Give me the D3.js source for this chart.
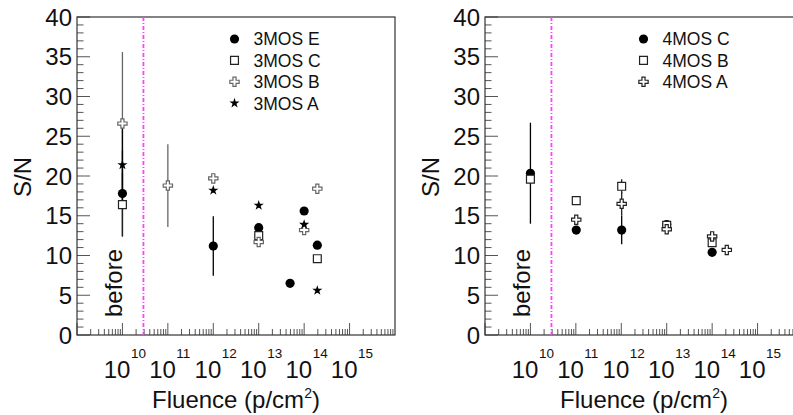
<!DOCTYPE html>
<html>
<head>
<meta charset="utf-8">
<script src="https://cdn.jsdelivr.net/npm/d3@7"></script>
<style>
  body { margin: 0; background: #fff; }
  svg { display: block; font-family: "Liberation Sans", Arial, sans-serif; }
</style>
</head>
<body>
<div id="chart"></div>
<script>
// ---- data ----
// left panel: 3MOS sensors
const mos3Names = ["3MOS E", "3MOS C", "3MOS B", "3MOS A"];
const mos3E_fluence = [1e10, 1e12, 1e13, 4.9e13, 1e14, 1.95e14];
const mos3E_sn      = [17.8, 11.2, 13.5, 6.5, 15.6, 11.3];
const mos3E_err     = [5.4, 3.75, 0.3, 0.3, 0.3, 0.3];
const mos3C_fluence = [1e10, 1e13, 1.95e14];
const mos3C_sn      = [16.4, 12.5, 9.6];
const mos3C_err     = [4.0, 0.5, 0.3];
const mos3B_fluence = [1e10, 1e11, 1e12, 1e13, 1e14, 1.95e14];
const mos3B_sn      = [26.6, 18.8, 19.7, 11.7, 13.2, 18.4];
const mos3B_err     = [9.0, 5.2, 0.4, 0.3, 0.5, 0.4];
const mos3A_fluence = [1e10, 1e12, 1e13, 1e14, 1.95e14];
const mos3A_sn      = [21.4, 18.2, 16.3, 13.9, 5.6];
const mos3A_err     = [4.8, 0.3, 0.3, 0.3, 0.3];

// right panel: 4MOS sensors
const mos4Names = ["4MOS C", "4MOS B", "4MOS A"];
const mos4C_fluence = [1e10, 1.02e11, 1.02e12, 1e13, 1e14];
const mos4C_sn      = [20.35, 13.2, 13.2, 13.9, 10.4];
const mos4C_err     = [6.35, 0.3, 1.8, 0.3, 0.3];
const mos4B_fluence = [1e10, 1.02e11, 1.02e12, 1e13, 1e14];
const mos4B_sn      = [19.6, 16.9, 18.7, 13.8, 11.6];
const mos4B_err     = [0.3, 0.5, 0.9, 0.3, 0.5];
const mos4A_fluence = [1.02e11, 1.02e12, 1e13, 1e14, 2.1e14];
const mos4A_sn      = [14.5, 16.5, 13.3, 12.4, 10.7];
const mos4A_err     = [0.6, 1.5, 0.3, 0.4, 0.3];

// irradiation boundary ("before" on the left of it)
const beforeLimit = 2.9e10;

// axis ticks
const yTickValues = [0, 5, 10, 15, 20, 25, 30, 35, 40];
const xDecades = [10, 11, 12, 13, 14, 15];
const xDomain = [1e9, 1e16];
const yDomain = [0, 40];

// ---- layout ----
var W = 793, H = 415;
var plotTop = 17, plotW = 318, plotH = 318;
var panelLeft = [77, 485];

var svg = d3.select("#chart")
            .append("svg")
            .attr("width", W)
            .attr("height", H);

function zip(fl, sn, er) {
    return fl.map(function (f, i) { return {f: f, sn: sn[i], err: er[i]}; });
}

var symbolFor = {
    circle: d3.symbol().type(d3.symbolCircle).size(66),
    square: d3.symbol().type(d3.symbolSquare).size(62),
    cross:  d3.symbol().type(d3.symbolCross).size(48),
    star:   d3.symbol().type(d3.symbolStar).size(32)
};

function drawMarker(g, shape, color) {
    var p = g.append("path").attr("d", symbolFor[shape]());
    if (shape == "circle" || shape == "star") {
        p.attr("fill", color).attr("stroke", "none");
    } else {
        p.attr("fill", "#fff").attr("stroke", color).attr("stroke-width", 1.2);
    }
    return p;
}

function drawPanel(left, series, legendX) {
    var g = svg.append("g")
               .attr("transform", "translate(" + left + "," + plotTop + ")");

    var x = d3.scaleLog().domain(xDomain).range([0, plotW]);
    var y = d3.scaleLinear().domain(yDomain).range([plotH, 0]);

    // y ticks (inside)
    var yMinor = d3.range(yDomain[0], yDomain[1] + 1, 1);
    g.selectAll(".ytick")
        .data(yMinor)
        .enter()
        .append("line")
        .attr("x1", 0)
        .attr("x2", function (d) { return d % 5 == 0 ? 13 : 6.5; })
        .attr("y1", function (d) { return y(d); })
        .attr("y2", function (d) { return y(d); })
        .attr("stroke", "#555")
        .attr("stroke-width", 1);

    g.selectAll(".ylab")
        .data(yTickValues)
        .enter()
        .append("text")
        .attr("x", -5)
        .attr("y", function (d) { return y(d); })
        .attr("dy", "0.36em")
        .attr("text-anchor", "end")
        .attr("font-size", 24)
        .attr("fill", "#111")
        .text(function (d) { return d; });

    // x ticks (log, inside)
    var xTicks = [];
    for (var dec = 9; dec <= 15; dec++) {
        for (var k = 1; k <= 9; k++) {
            var v = k * Math.pow(10, dec);
            if (v <= xDomain[1]) xTicks.push({v: v, major: k == 1});
        }
    }
    g.selectAll(".xtick")
        .data(xTicks)
        .enter()
        .append("line")
        .attr("x1", function (d) { return x(d.v); })
        .attr("x2", function (d) { return x(d.v); })
        .attr("y1", plotH)
        .attr("y2", function (d) { return d.major ? plotH - 12 : plotH - 6; })
        .attr("stroke", "#555")
        .attr("stroke-width", 1);

    var xl = g.selectAll(".xlab")
        .data(xDecades)
        .enter()
        .append("g");
    xl.append("text")
        .attr("x", function (d) { return x(Math.pow(10, d)) + 8; })
        .attr("y", 361)
        .attr("text-anchor", "end")
        .attr("font-size", 24)
        .attr("fill", "#111")
        .text("10");
    xl.append("text")
        .attr("x", function (d) { return x(Math.pow(10, d)) + 8.5; })
        .attr("y", 341)
        .attr("text-anchor", "start")
        .attr("font-size", 13.5)
        .attr("fill", "#111")
        .text(function (d) { return d; });

    // frame
    g.append("rect")
        .attr("x", 0).attr("y", 0)
        .attr("width", plotW).attr("height", plotH)
        .attr("fill", "none")
        .attr("stroke", "#333")
        .attr("stroke-width", 1.2);

    // magenta boundary
    g.append("line")
        .attr("x1", x(beforeLimit)).attr("x2", x(beforeLimit))
        .attr("y1", 0).attr("y2", plotH)
        .attr("stroke", "#ff40ff")
        .attr("stroke-width", 1.8)
        .attr("stroke-dasharray", "4,2,1,2");

    // "before" label
    g.append("text")
        .attr("transform", "translate(" + (x(1e10) - 0.5) + "," + (283 - plotTop) + ") rotate(-90)")
        .attr("text-anchor", "middle")
        .attr("font-size", 24)
        .attr("fill", "#111")
        .text("before");

    // axis titles
    g.append("text")
        .attr("transform", "translate(-46," + (177 - plotTop) + ") rotate(-90)")
        .attr("text-anchor", "middle")
        .attr("font-size", 24)
        .attr("fill", "#111")
        .text("S/N");

    var t = g.append("text")
        .attr("x", plotW / 2)
        .attr("y", 391)
        .attr("text-anchor", "middle")
        .attr("font-size", 24)
        .attr("fill", "#111");
    t.append("tspan").text("Fluence (p/cm");
    t.append("tspan").attr("font-size", 14).attr("dy", -10).text("2");
    t.append("tspan").attr("dy", 10).text(")");

    // data: error bars then markers
    series.forEach(function (s) {
        var pts = zip(s.fl, s.sn, s.er);
        var sg = g.append("g");
        sg.selectAll(".err")
            .data(pts)
            .enter()
            .append("line")
            .attr("x1", function (d) { return x(d.f); })
            .attr("x2", function (d) { return x(d.f); })
            .attr("y1", function (d) { return y(d.sn - d.err); })
            .attr("y2", function (d) { return y(d.sn + d.err); })
            .attr("stroke", s.color)
            .attr("stroke-width", 1.3);
    });
    series.forEach(function (s) {
        var pts = zip(s.fl, s.sn, s.er);
        pts.forEach(function (d) {
            var mg = g.append("g")
                .attr("transform", "translate(" + x(d.f) + "," + y(d.sn) + ")");
            drawMarker(mg, s.shape, s.color);
        });
    });

    // legend
    series.forEach(function (s, i) {
        var ly = 39 + i * 21.4 - plotTop;
        var lg = g.append("g")
            .attr("transform", "translate(" + (legendX - left) + "," + ly + ")");
        drawMarker(lg, s.shape, s.color);
        lg.append("text")
            .attr("x", 19)
            .attr("dy", "0.36em")
            .attr("font-size", 17.5)
            .attr("fill", "#111")
            .text(s.name);
    });
}

drawPanel(panelLeft[0], [
    {name: mos3Names[0], fl: mos3E_fluence, sn: mos3E_sn, er: mos3E_err, shape: "circle", color: "#000"},
    {name: mos3Names[1], fl: mos3C_fluence, sn: mos3C_sn, er: mos3C_err, shape: "square", color: "#222"},
    {name: mos3Names[2], fl: mos3B_fluence, sn: mos3B_sn, er: mos3B_err, shape: "cross",  color: "#666"},
    {name: mos3Names[3], fl: mos3A_fluence, sn: mos3A_sn, er: mos3A_err, shape: "star",   color: "#000"}
], 234.5);

drawPanel(panelLeft[1], [
    {name: mos4Names[0], fl: mos4C_fluence, sn: mos4C_sn, er: mos4C_err, shape: "circle", color: "#000"},
    {name: mos4Names[1], fl: mos4B_fluence, sn: mos4B_sn, er: mos4B_err, shape: "square", color: "#222"},
    {name: mos4Names[2], fl: mos4A_fluence, sn: mos4A_sn, er: mos4A_err, shape: "cross",  color: "#222"}
], 643.5);
</script>
</body>
</html>
